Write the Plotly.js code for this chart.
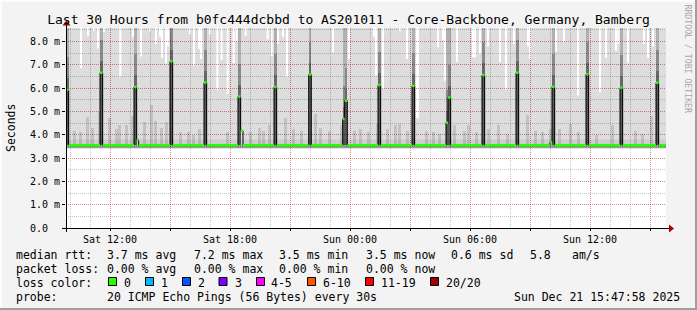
<!DOCTYPE html>
<html><head><meta charset="utf-8">
<script src="https://cdn.plot.ly/plotly-3.0.1.min.js"></script>
<style>html,body{margin:0;padding:0;background:#f3f3f3;overflow:hidden}#chart{width:697px;height:310px}</style>
</head><body><div id="chart"></div>
<script>
// ---------------- DATA ----------------
const chartTitle = 'Last 30 Hours from b0fc444dcbbd to AS201011 - Core-Backbone, Germany, Bamberg';
const startTime = '2025-12-20T09:48:00Z';   // left edge of the graph
const spanMinutes = 1800;                    // 30 hours
// median RTT (ms) as step change points, minutes from start
const medianMinutes = [0, 8, 102, 110, 204, 212, 218, 312, 320, 414, 422, 516, 524, 531, 624, 632, 728, 736, 830, 836, 844, 936, 944, 1038, 1046, 1140, 1146, 1154, 1248, 1256, 1350, 1358, 1452, 1458, 1466, 1560, 1568, 1662, 1670, 1770, 1778, 1800];
const medianValues  = [5.93, 3.55, 6.66, 3.55, 6.05, 3.78, 3.55, 7.15, 3.55, 6.24, 3.55, 5.64, 4.17, 3.55, 6.05, 3.55, 6.58, 3.55, 4.68, 5.46, 3.55, 6.13, 3.55, 6.10, 3.55, 4.52, 5.60, 3.55, 6.56, 3.55, 6.66, 3.55, 3.68, 6.06, 3.55, 6.60, 3.55, 6.02, 3.55, 6.23, 3.55, 3.55];
// smallest ping (ms)
const minPing = 3.42;
// intervals where the largest ping stayed below the top of the graph
const lowMaxMinutes   = [42, 63, 81, 93, 111, 160, 198, 222, 249, 267, 279, 285, 297, 303, 369, 381, 396, 402, 429, 451, 464, 482, 500, 509, 536, 602, 614, 633, 648, 660, 798, 846, 921, 927, 948, 999, 1020, 1050, 1113, 1128, 1134, 1170, 1218, 1239, 1263, 1299, 1317, 1341, 1383, 1389, 1467, 1491, 1533, 1599, 1617, 1647, 1654, 1683, 1731, 1743, 1758];
const lowMaxDurations = [6, 6, 6, 6, 6, 6, 6, 6, 6, 6, 6, 6, 6, 6, 6, 6, 6, 6, 6, 6, 6, 6, 6, 6, 6, 6, 6, 6, 6, 6, 6, 6, 6, 6, 6, 6, 6, 9, 6, 6, 6, 6, 12, 6, 6, 6, 6, 6, 6, 6, 6, 6, 6, 6, 6, 6, 6, 6, 6, 6, 6];
const lowMaxValues    = [6.85, 8.25, 8.45, 7.7, 8.4, 6.5, 8.2, 7.36, 8.45, 7.9, 8.2, 7.3, 7.07, 7.8, 8.3, 6.97, 7.68, 7.25, 8.3, 5.94, 7.2, 5.75, 7.08, 8.0, 8.25, 8.1, 7.36, 7.9, 8.2, 6.5, 7.53, 7.25, 8.2, 6.54, 5.97, 8.45, 7.25, 4.71, 7.75, 8.05, 6.32, 7.12, 7.32, 7.46, 7.8, 7.12, 5.94, 7.9, 7.8, 7.25, 7.56, 8.0, 5.68, 5.82, 7.29, 7.6, 7.9, 7.1, 7.9, 7.3, 7.8];
// upper ping spread (mid smoke) near the baseline
const spreadMinutes = [21, 38, 59, 75, 96, 126, 147, 156, 177, 195, 230, 252, 264, 282, 297, 339, 362, 378, 396, 479, 549, 576, 588, 606, 654, 678, 702, 744, 759, 786, 821, 860, 879, 903, 929, 960, 984, 996, 1019, 1076, 1098, 1115, 1160, 1190, 1203, 1227, 1262, 1293, 1319, 1379, 1404, 1425, 1448, 1476, 1509, 1533, 1586, 1635, 1703, 1724, 1751];
const spreadValues  = [4.15, 4.1, 4.76, 4.3, 4.97, 4.7, 4.25, 4.4, 4.4, 4.8, 4.55, 5.28, 4.6, 4.3, 4.55, 4.1, 4.1, 4.0, 4.25, 4.1, 4.1, 4.3, 4.15, 4.4, 4.7, 4.25, 4.15, 4.9, 4.3, 4.15, 4.4, 4.15, 4.25, 4.1, 4.45, 4.25, 4.4, 4.45, 4.15, 4.15, 4.1, 4.05, 4.4, 4.15, 4.4, 4.1, 4.25, 4.4, 4.05, 4.83, 4.15, 4.1, 4.25, 4.25, 4.45, 4.1, 4.0, 4.4, 4.15, 4.05, 4.8];
// tick labels
const xTickTimes  = ['2025-12-20 12:00', '2025-12-20 15:00', '2025-12-20 18:00', '2025-12-20 21:00', '2025-12-21 00:00', '2025-12-21 03:00', '2025-12-21 06:00', '2025-12-21 09:00', '2025-12-21 12:00', '2025-12-21 15:00'];
const xTickLabels = ['Sat 12:00', '', 'Sat 18:00', '', 'Sun 00:00', '', 'Sun 06:00', '', 'Sun 12:00', ''];
const yTickValues = [0, 1, 2, 3, 4, 5, 6, 7, 8];
const yTickLabels = ['0.0\u00a0\u00a0', '1.0 m', '2.0 m', '3.0 m', '4.0 m', '5.0 m', '6.0 m', '7.0 m', '8.0 m'];
// legend texts
const statsRtt  = ['median rtt:', '3.7 ms avg', '7.2 ms max', '3.5 ms min', '3.5 ms now', '0.6 ms sd', '5.8', 'am/s'];
const statsLoss = ['packet loss:', '0.00 % avg', '0.00 % max', '0.00 % min', '0.00 % now'];
const lossLabels = ['0', '1', '2', '3', '4-5', '6-10', '11-19', '20/20'];
const lossColors = ['#26ff00', '#00b8ff', '#0059ff', '#7e00ff', '#ff00ff', '#ff5500', '#ff0000', '#a10000'];
const probeText = ['probe:', '20 ICMP Echo Pings (56 Bytes) every 30s', 'Sun Dec 21 15:47:58 2025'];

// ---------------- BUILD ----------------
const T0 = Date.parse(startTime);
function t(min) { return new Date(T0 + min * 60000).toISOString().slice(0, 19).replace('T', ' '); }
const MONO = "'DejaVu Sans Mono', monospace";
const TOP = 9.5;

const traces = [];
// light smoke: min ping to max ping
traces.push({x: [t(0), t(spanMinutes)], y: [minPing, minPing], mode: 'lines', line: {width: 0}, hoverinfo: 'skip'});
const mx = [t(0)], my = [TOP];
lowMaxMinutes.forEach((m, i) => { mx.push(t(m)); my.push(lowMaxValues[i]); mx.push(t(m + lowMaxDurations[i])); my.push(TOP); });
mx.push(t(spanMinutes)); my.push(TOP);
traces.push({x: mx, y: my, mode: 'lines', line: {width: 0, shape: 'hv'}, fill: 'tonexty', fillcolor: 'rgba(0,0,0,0.135)', hoverinfo: 'skip'});
// dense smoke band around the baseline
const baseRtt = medianValues[medianValues.length - 1];
traces.push({x: [t(0), t(spanMinutes)], y: [minPing, minPing], mode: 'lines', line: {width: 0}, hoverinfo: 'skip'});
traces.push({x: [t(0), t(spanMinutes)], y: [baseRtt, baseRtt], mode: 'lines', line: {width: 0}, fill: 'tonexty', fillcolor: 'rgba(0,0,0,0.3)', hoverinfo: 'skip'});
traces.push({x: [t(0), t(spanMinutes)], y: [baseRtt + 0.25, baseRtt + 0.25], mode: 'lines', line: {width: 0}, fill: 'tonexty', fillcolor: 'rgba(0,0,0,0.07)', hoverinfo: 'skip'});
// spread bars
traces.push({type: 'bar', x: spreadMinutes.map(m => t(m + 4.5)), y: spreadValues.map(v => v - baseRtt), base: spreadValues.map(() => baseRtt),
  width: spreadMinutes.map(() => 9 * 60000), marker: {color: 'rgba(0,0,0,0.12)', line: {width: 0}}, hoverinfo: 'skip'});
// spike smoke
const sx = [], sw = [], sv = [];
medianValues.forEach((v, i) => {
  if (v > 4.4 && i < medianValues.length - 1) {
    const d = medianMinutes[i + 1] - medianMinutes[i];
    sx.push(t(medianMinutes[i] + d / 2)); sw.push(d * 60000); sv.push(v);
  }
});
function spikeBar(lo, hi, color) {
  return {type: 'bar', x: sx, width: sw, base: sv.map(lo), y: sv.map((v) => hi(v) - lo(v)), marker: {color: color, line: {width: 0}}, hoverinfo: 'skip'};
}
traces.push(spikeBar(v => v, v => TOP, 'rgba(0,0,0,0.2)'));
traces.push(spikeBar(v => v, v => v + 1.4, 'rgba(0,0,0,0.22)'));
traces.push(spikeBar(v => v, v => v + 0.5, 'rgba(0,0,0,0.25)'));
traces.push(spikeBar(v => baseRtt, v => v, 'rgba(0,0,0,0.6)'));
// median line
traces.push({x: medianMinutes.map(t), y: medianValues, mode: 'lines', line: {color: '#000', width: 1, shape: 'hv'}, hoverinfo: 'skip'});
const gx = [], gy = [];
for (let i = 0; i < medianMinutes.length - 1; i++) {
  gx.push(t(medianMinutes[i]), t(medianMinutes[i + 1]), null);
  gy.push(medianValues[i], medianValues[i], null);
}
traces.push({x: gx, y: gy, mode: 'lines', line: {color: lossColors[0], width: 2.5}, connectgaps: false, hoverinfo: 'skip'});

// ---------------- LAYOUT ----------------
const L = 66, R = 666, TOPPX = 28, BOT = 228;
const px = x => (x - L) / (R - L);
const py = y => (BOT - y) / (BOT - TOPPX);
const annotations = [];
function ann(text, x, y, opts) {
  annotations.push(Object.assign({text: text, xref: 'paper', yref: 'paper', x: px(x), y: py(y), xanchor: 'left', yanchor: 'middle',
    showarrow: false, borderpad: 0, font: {family: MONO, size: 11.5, color: '#000'}}, opts || {}));
}
const rttX = [15, 106, 192.5, 278, 364.5, 450, 529, 571];
statsRtt.forEach((s, i) => ann(s, rttX[i], 254.5));
statsLoss.forEach((s, i) => ann(s, rttX[i], 268.5));
ann('loss color:', 15, 282.5);
const boxX = [108.5, 145.5, 182.5, 219, 256.5, 307.5, 365.5, 430.5];
const lblX = [122.5, 160, 196.5, 233.5, 270, 321.5, 380, 445];
lossLabels.forEach((s, i) => ann(s, lblX[i], 282.5));
ann(probeText[0], 15, 296.5);
ann(probeText[1], 106, 296.5);
ann(probeText[2], 680.5, 296.5, {xanchor: 'right'});
ann('Seconds', 11, 128, {xanchor: 'center', textangle: -90});
ann('RRDTOOL / TOBI OETIKER', 687.5, 59, {xanchor: 'center', textangle: 90, font: {family: MONO, size: 8.2, color: '#a8a8a8'}});

const shapes = [];
lossColors.forEach((c, i) => shapes.push({type: 'rect', xref: 'paper', yref: 'paper', x0: px(boxX[i]), x1: px(boxX[i] + 8), y0: py(277.5), y1: py(285.5),
  fillcolor: c, line: {color: '#000', width: 1}}));
// axis lines and arrows
shapes.push({type: 'line', xref: 'paper', yref: 'paper', x0: px(62), x1: px(670), y0: py(228.5), y1: py(228.5), line: {color: '#000', width: 1}, layer: 'above'});
shapes.push({type: 'line', xref: 'paper', yref: 'paper', x0: px(66.5), x1: px(66.5), y0: py(232), y1: py(24), line: {color: '#000', width: 1}, layer: 'above'});
shapes.push({type: 'path', xref: 'paper', yref: 'paper', path: `M${px(669)},${py(224.5)} L${px(669)},${py(232.5)} L${px(674)},${py(228.5)} Z`, fillcolor: '#a00000', line: {width: 0}, layer: 'above'});
shapes.push({type: 'path', xref: 'paper', yref: 'paper', path: `M${px(62.5)},${py(25.5)} L${px(70.5)},${py(25.5)} L${px(66.5)},${py(20.5)} Z`, fillcolor: '#a00000', line: {width: 0}, layer: 'above'});
// canvas border
shapes.push({type: 'rect', xref: 'paper', yref: 'paper', x0: px(0), x1: px(697), y0: py(0), y1: py(2), fillcolor: '#fcfcfc', line: {width: 0}});
shapes.push({type: 'rect', xref: 'paper', yref: 'paper', x0: px(0), x1: px(2), y0: py(0), y1: py(310), fillcolor: '#fcfcfc', line: {width: 0}});
shapes.push({type: 'rect', xref: 'paper', yref: 'paper', x0: px(0), x1: px(697), y0: py(308), y1: py(310), fillcolor: '#a0a0a0', line: {width: 0}});
shapes.push({type: 'rect', xref: 'paper', yref: 'paper', x0: px(695), x1: px(697), y0: py(0), y1: py(310), fillcolor: '#a0a0a0', line: {width: 0}});

const RED = 'rgba(255,0,0,0.3)', GRAY = 'rgba(0,0,0,0.22)';
const layout = {
  width: 697, height: 310, margin: {l: L, r: 697 - R, t: TOPPX, b: 310 - BOT},
  paper_bgcolor: '#f3f3f3', plot_bgcolor: '#ffffff', showlegend: false, barmode: 'overlay', bargap: 0,
  title: {text: chartTitle, font: {family: MONO, size: 13, color: '#000'}, x: 0.5, xanchor: 'center', xref: 'container', y: 1 - 19 / 310, yref: 'container', yanchor: 'middle'},
  xaxis: {type: 'date', range: [t(0), t(spanMinutes)], tickmode: 'array', tickvals: xTickTimes, ticktext: xTickLabels,
    showgrid: true, gridcolor: RED, gridwidth: 1, griddash: '1px,1px', zeroline: false, showline: false,
    ticks: 'outside', ticklen: 2, tickcolor: '#000', tickfont: {family: MONO, size: 10, color: '#000'}, fixedrange: true,
    minor: {dtick: 3600000, tick0: '2025-12-20 00:00:00', showgrid: true, gridcolor: GRAY, griddash: '1px,1px', gridwidth: 1, ticks: ''}},
  yaxis: {range: [0, 8.58], tickmode: 'array', tickvals: yTickValues, ticktext: yTickLabels,
    showgrid: true, gridcolor: RED, gridwidth: 1, griddash: '1px,1px', zeroline: false, showline: false,
    ticks: 'outside', ticklen: 3, tickcolor: '#000', tickfont: {family: MONO, size: 10, color: '#000'}, fixedrange: true, automargin: false,
    minor: {dtick: 0.5, showgrid: true, gridcolor: GRAY, griddash: '1px,1px', gridwidth: 1, ticks: ''}},
  annotations: annotations, shapes: shapes
};
Plotly.newPlot('chart', traces, layout, {staticPlot: true, displayModeBar: false});
</script></body></html>
